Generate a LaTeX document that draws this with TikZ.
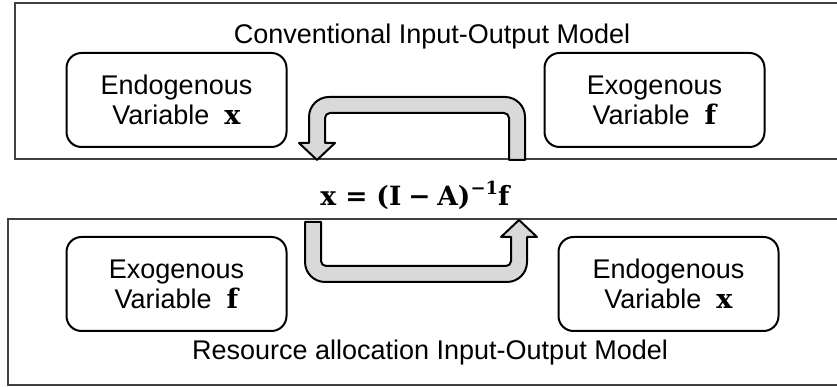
\documentclass[tikz,border=0pt]{standalone}
\usepackage[no-math]{fontspec}
\setmainfont{Liberation Sans}
\newfontfamily\eqfont{DejaVu Serif}
\usepackage{tikz}
\usetikzlibrary{positioning}
\usepackage{xcolor}
\definecolor{ink}{HTML}{000000}
\definecolor{rule}{HTML}{404040}
\definecolor{uturnfill}{HTML}{D9D9D9}
\newcommand{\bvar}[1]{{\eqfont\bfseries #1}}
\tikzset{
  every node/.style={font=\fontsize{27}{30}\selectfont,text=ink},
  varbox/.style={draw=ink,line width=2pt,rounded corners=15pt,align=center,minimum width=220pt,minimum height=94pt,inner sep=0pt},
  panel/.style={draw=rule,line width=1.5pt},
  uturn/.style={draw=ink,line width=2pt,fill=uturnfill,line join=round},
  plain/.style={inner sep=0pt},
}

\begin{document}
\begin{tikzpicture}[x=1pt,y=1pt]
\useasboundingbox (0,0) rectangle (837,387);

\draw[panel] (837,384) -- (15,384) -- (15,228) -- (837,228);
\draw[panel] (837,168) -- (8,168) -- (8,2) -- (837,2);

\node[plain] (convtitle) at (432,350) {Conventional Input-Output Model};
\node[varbox] (endoA) at (176.5,287) {Endogenous\\Variable~ \bvar{x}};
\node[varbox,right=256pt of endoA] (exoA) {Exogenous\\Variable~ \bvar{f}};

\node[plain,font=\eqfont\bfseries\fontsize{26.5}{30}\selectfont] (eqn) at (415,192)
  {x\hspace{0.34em}=\hspace{0.34em}(I\hspace{0.26em}−\hspace{0.26em}A)\raisebox{0.42em}{\fontsize{18}{20}\selectfont −1}f};

\node[varbox,below=88pt of endoA] (exoB) {Exogenous\\Variable~ \bvar{f}};
\node[varbox,right=270pt of exoB] (endoB) {Endogenous\\Variable~ \bvar{x}};
\node[plain] (restitle) at (430,34) {Resource allocation Input-Output Model};

\draw[uturn] (525,227) -- (525,270) arc[start angle=0,end angle=90,radius=20pt]
  -- (329,290) arc[start angle=90,end angle=180,radius=20pt]
  -- (309,244) -- (299,244) -- (317,227) -- (335,244) -- (325,244)
  -- (325,269) arc[start angle=180,end angle=90,radius=5pt]
  -- (504,274) arc[start angle=90,end angle=0,radius=5pt]
  -- (509,227) -- cycle;

\draw[uturn] (305,165) -- (305,125) arc[start angle=180,end angle=270,radius=20pt]
  -- (507,105) arc[start angle=270,end angle=360,radius=20pt]
  -- (527,150) -- (537,150) -- (519,167) -- (501,150) -- (511,150)
  -- (511,126) arc[start angle=0,end angle=-90,radius=5pt]
  -- (326,121) arc[start angle=270,end angle=180,radius=5pt]
  -- (321,165) -- cycle;

\end{tikzpicture}
\end{document}
